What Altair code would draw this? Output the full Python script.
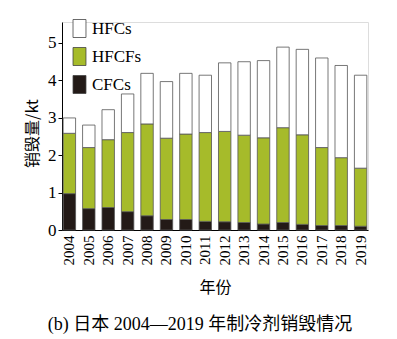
import altair as alt
import pandas as pd

years = [str(y) for y in range(2004, 2020)]
cfcs = [0.97, 0.57, 0.60, 0.49, 0.38, 0.28, 0.28, 0.23, 0.22, 0.20, 0.16, 0.20, 0.15, 0.12, 0.12, 0.10]
hfcfs = [1.61, 1.63, 1.81, 2.11, 2.45, 2.17, 2.28, 2.37, 2.41, 2.33, 2.30, 2.53, 2.39, 2.08, 1.81, 1.55]
hfcs = [0.41, 0.60, 0.80, 1.03, 1.35, 1.51, 1.62, 1.53, 1.83, 1.96, 2.06, 2.15, 2.28, 2.39, 2.46, 2.48]
series = ["HFCs", "HFCFs", "CFCs"]
colors = ["#ffffff", "#a6bb2a", "#231a17"]
stack_order = {"CFCs": 0, "HFCFs": 1, "HFCs": 2}

rows = []
for i, y in enumerate(years):
    for name, vals in (("CFCs", cfcs), ("HFCFs", hfcfs), ("HFCs", hfcs)):
        rows.append({"year": y, "type": name, "value": vals[i], "ord": stack_order[name]})
df = pd.DataFrame(rows)

serif = "Liberation Serif, Noto Sans CJK SC"
cjk = "Noto Sans CJK SC"

chart = alt.Chart(df).mark_bar(stroke="#555555", strokeWidth=0.8).encode(
    x=alt.X("year:N", sort=years,
            scale=alt.Scale(paddingInner=0.36, paddingOuter=0.06),
            axis=alt.Axis(title="年份", labelAngle=-90, labelFont=serif, labelFontSize=15,
                          labelColor="black", ticks=False, domainColor="black",
                          labelPadding=5, titleFont=cjk, titleFontSize=16,
                          titleFontWeight="normal", titleColor="black", titlePadding=14)),
    y=alt.Y("value:Q", stack="zero",
            scale=alt.Scale(domain=[0, 5.55], nice=False),
            axis=alt.Axis(title="销毁量/kt", values=[0, 1, 2, 3, 4, 5], grid=False,
                          labelFont=serif, labelFontSize=17, labelColor="black",
                          tickColor="black", tickSize=4, domainColor="black",
                          titleFont=cjk, titleFontSize=16, titleFontWeight="normal",
                          titleColor="black", titleX=-22, titleY=111)),
    color=alt.Color("type:N", scale=alt.Scale(domain=series, range=colors),
                    legend=alt.Legend(title=None, orient="none", legendX=8, legendY=-3,
                                      symbolType="M-0.72,-1L0.72,-1L0.72,1L-0.72,1Z",
                                      symbolSize=324, symbolStrokeColor="#444444",
                                      symbolStrokeWidth=0.8, symbolOpacity=1,
                                      labelFont=serif, labelFontSize=17, labelColor="black",
                                      labelOffset=3, rowPadding=5)),
    order=alt.Order("ord:Q", sort="ascending"),
).properties(
    width=306, height=208,
    title=alt.TitleParams("(b) 日本 2004—2019 年制冷剂销毁情况", orient="bottom",
                          font=serif, fontSize=18, fontWeight="normal", color="black",
                          offset=21, anchor="middle", dx=-15),
    autosize=alt.AutoSizeParams(type="none"),
    padding={"left": 62, "top": 22, "right": 29, "bottom": 109},
).configure_view(stroke=None).configure(background="white")

chart.save("out.html", embed_options={"renderer": "svg", "actions": False})
